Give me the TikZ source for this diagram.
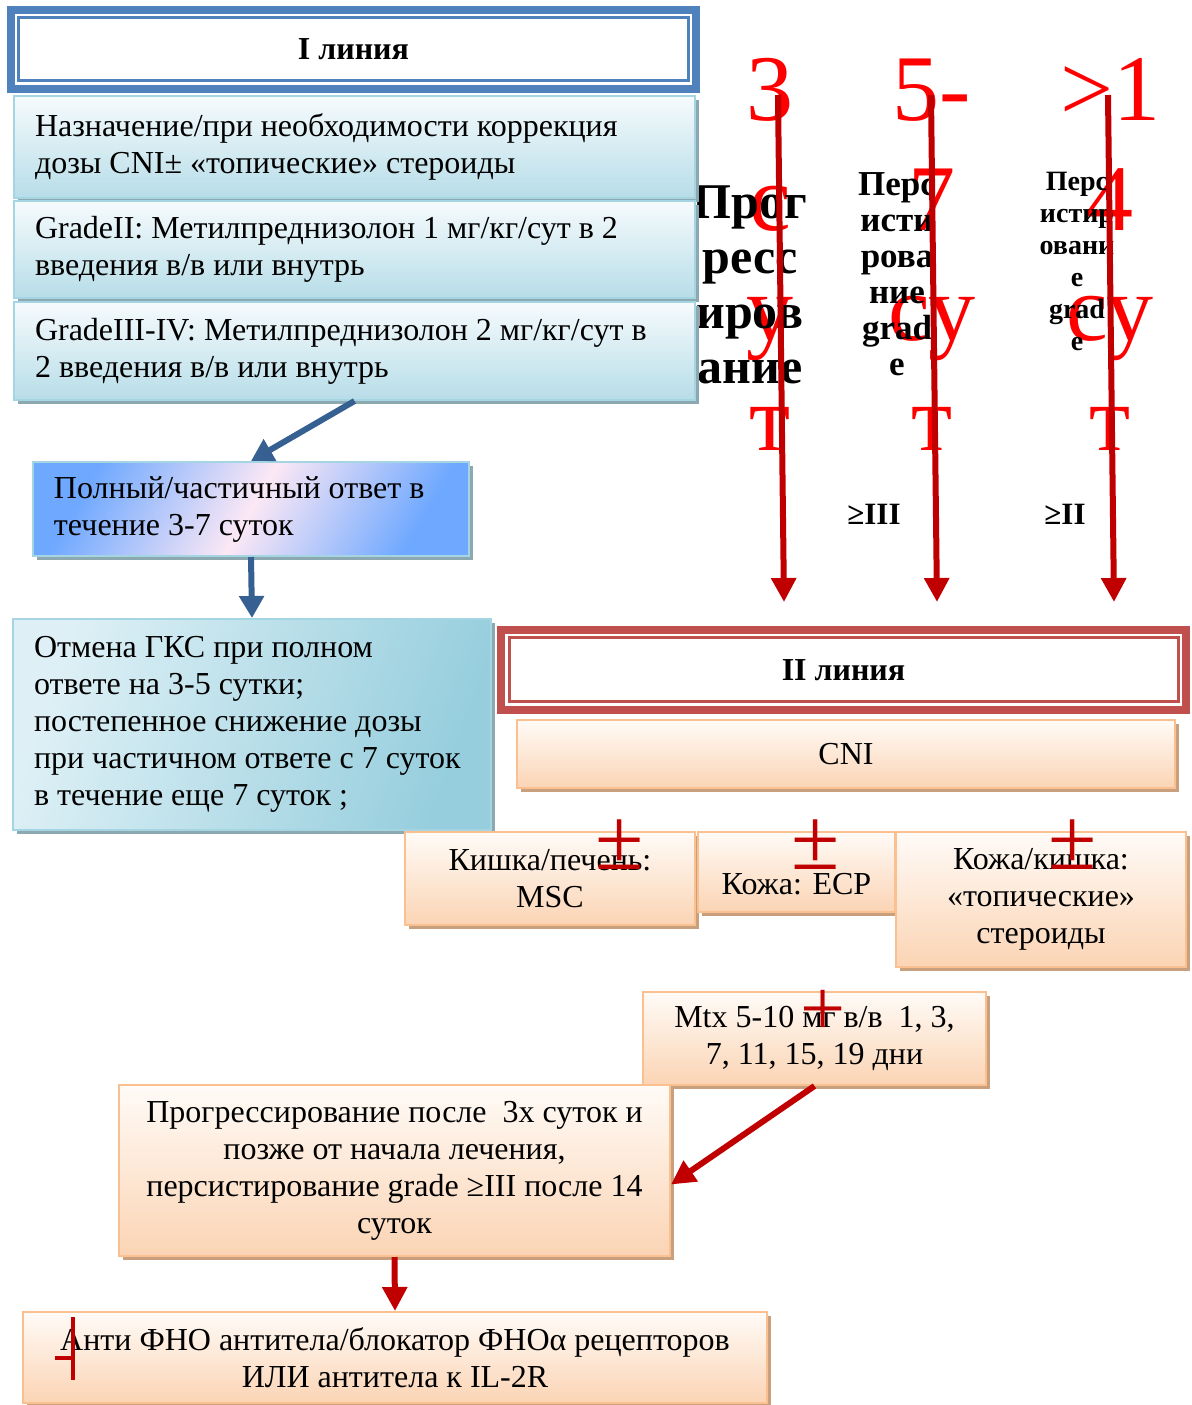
\documentclass[tikz,border=0pt]{standalone}
\usepackage{fontspec}
\setmainfont{Liberation Serif}
\usetikzlibrary{arrows.meta,shadows}
\definecolor{ttlblue}{RGB}{79,129,189}
\definecolor{ttlred}{RGB}{192,80,77}
\definecolor{arrblue}{RGB}{54,96,146}
\definecolor{arrred}{RGB}{192,0,0}
\definecolor{txtred}{RGB}{255,0,0}
\definecolor{aquatop}{RGB}{246,251,253}
\definecolor{aquabot}{RGB}{183,221,232}
\definecolor{aquaedge}{RGB}{165,213,226}
\definecolor{aquashd}{RGB}{140,168,176}
\definecolor{respblue}{RGB}{110,168,255}
\definecolor{respmid}{RGB}{252,232,245}
\definecolor{canclight}{RGB}{222,240,246}
\definecolor{cancdark}{RGB}{150,206,221}
\definecolor{peachtop}{RGB}{255,251,247}
\definecolor{peachbot}{RGB}{251,212,180}
\definecolor{peachedge}{RGB}{250,192,143}
\definecolor{peachshd}{RGB}{201,160,125}
\newcommand\bodyfs{\fontsize{16}{18.5}\selectfont}
\newcommand\headfs{\fontsize{16}{19}\selectfont\bfseries}

\begin{document}
\begin{tikzpicture}[x=0.5pt,y=-0.5pt,
   every node/.style={font=\bodyfs},
   ttlone/.style={draw=ttlblue, line width=4pt, fill=white, minimum width=342.5pt, minimum height=39.5pt, font=\headfs},
   ttltwo/.style={draw=ttlred, line width=4pt, fill=white, minimum width=342.5pt, minimum height=39.75pt, font=\headfs},
   aquabox/.style={draw=aquaedge, line width=1pt, top color=aquatop, bottom color=aquabot,
      drop shadow={shadow xshift=2pt, shadow yshift=-2pt, fill=aquashd, opacity=1},
      align=flush left, inner xsep=10.5pt, inner ysep=2pt},
   respbox/.style={aquabox, left color=respblue, right color=respblue, middle color=respmid, shading angle=60},
   cancbox/.style={aquabox, left color=canclight, right color=cancdark, shading angle=70},
   peachbox/.style={draw=peachedge, line width=1pt, top color=peachtop, bottom color=peachbot,
      drop shadow={shadow xshift=2pt, shadow yshift=-2pt, fill=peachshd, opacity=1},
      align=center, inner sep=2pt},
   daytxt/.style={text=txtred, align=center, anchor=base, inner sep=0pt, font=\fontsize{47}{55}\selectfont},
   pmsign/.style={text=arrred, anchor=base, inner sep=0pt, font=\fontsize{44}{44}\selectfont},
   bluearrow/.style={draw=arrblue, line width=3pt, -{Triangle[width=12pt,length=11pt]}},
   redarrow/.style={draw=arrred, line width=3pt, -{Triangle[width=12pt,length=12pt]}}]
\useasboundingbox (0,0) rectangle (1191,1405);

\node[daytxt] (d3) at (770,450) {3\\с\\у\\т};
\node[daytxt] (d57) at (932,450) {5-\\7\\су\\т};
\node[daytxt] (d14) at (1110,450) {>1\\4\\су\\т};

\node[anchor=base, align=center, inner sep=0pt, font=\fontsize{25}{27.5}\selectfont\bfseries] (prg) at (750,383) {Прог\\ресс\\иров\\ание};
\node[anchor=base, align=center, inner sep=0pt, font=\fontsize{17.5}{18}\selectfont\bfseries] (pers3) at (897,375) {Перс\\исти\\рова\\ние\\grad\\e};
\node[anchor=base, align=center, inner sep=0pt, font=\fontsize{14}{16}\selectfont\bfseries] (pers2) at (1077,350) {Перс\\истир\\овани\\е\\grad\\e};
\node[anchor=base, inner sep=0pt, font=\fontsize{15.5}{18}\selectfont\bfseries] (ge3) at (874,524) {≥III};
\node[anchor=base, inner sep=0pt, font=\fontsize{15.5}{18}\selectfont\bfseries] (ge2) at (1065,524) {≥II};

\coordinate (top1) at (778,95);
\coordinate (end1) at (784,602);
\coordinate (top2) at (931,95);
\coordinate (end2) at (937,602);
\coordinate (top3) at (1108,95);
\coordinate (end3) at (1114,602);
\draw[redarrow] (top1) -- (end1);
\draw[redarrow] (top2) -- (end2);
\draw[redarrow] (top3) -- (end3);

\node[ttlone] (line1) at (353.5,49) {I линия};
\draw[ttlblue, line width=1.5pt] ([shift={(11.5,12)}]line1.north west) rectangle ([shift={(-11.5,-12)}]line1.south east);

\node[aquabox, text width=319.5pt, minimum height=51pt] (step1) at (354.5,147) {Назначение/при необходимости коррекция\\дозы CNI± «топические» стероиды};
\node[aquabox, text width=319.5pt, minimum height=48.5pt] (step2) at (354.5,249.5) {GradeII: Метилпреднизолон 1 мг/кг/сут в 2\\введения в/в или внутрь};
\node[aquabox, text width=319.5pt, minimum height=49pt] (step3) at (354.5,351) {GradeIII-IV: Метилпреднизолон 2 мг/кг/сут в\\2 введения в/в или внутрь};
\node[respbox, text width=197pt, minimum height=47pt] (resp) at (251,509) {Полный/частичный ответ в\\течение 3-7 суток};
\node[cancbox, text width=218pt, minimum height=105.5pt] (cancel) at (252,724.5) {Отмена ГКС при полном\\ответе на 3-5 сутки;\\постепенное снижение дозы\\при частичном ответе с 7 суток\\в течение еще 7 суток ;};

\draw[bluearrow] (step3.south) -- (resp.north);
\draw[bluearrow] (resp.south) -- (cancel.north);

\node[ttltwo] (line2) at (843.5,669.75) {II линия};
\draw[ttlred, line width=1.5pt] ([shift={(12.5,11.5)}]line2.north west) rectangle ([shift={(-12,-12)}]line2.south east);

\node[peachbox, minimum width=329pt, minimum height=34pt] (cni) at (846,754) {CNI};
\node[peachbox, minimum width=145pt, minimum height=46.5pt] (gut) at (550,878.5) {Кишка/печень:\\MSC};
\node[peachbox, minimum width=98.5pt, minimum height=40pt, text height=25pt, text depth=3pt] (skin) at (796.5,872) {Кожа: ECP};
\node[peachbox, minimum width=145pt, minimum height=67.5pt] (skingut) at (1041,899.5) {Кожа/кишка:\\«топические»\\стероиды};
\node[peachbox, minimum width=171.5pt, minimum height=46.5pt] (mtx) at (814.5,1038.5) {Mtx 5-10 мг в/в\ \ 1, 3,\\7, 11, 15, 19 дни};
\node[peachbox, minimum width=275.5pt, minimum height=85.5pt] (prog) at (394.5,1170.5) {Прогрессирование после\ \ 3х суток и\\позже от начала лечения,\\персистирование grade ≥III после 14\\суток};
\node[peachbox, minimum width=372pt, minimum height=45.5pt] (anti) at (395,1357.5) {Анти ФНО антитела/блокатор ФНОα рецепторов\\ИЛИ антитела к IL-2R};

\node[pmsign] (pm1) at (620,869) {±};
\node[pmsign] (pm2) at (816,869) {±};
\node[pmsign] (pm3) at (1073,869) {±};
\node[pmsign, font=\fontsize{40}{40}\selectfont] (plus) at (823,1035) {+};
\draw[arrred, line width=2pt] (73,1317) -- (73,1380) (55,1358) -- (73,1358);

\draw[redarrow] (mtx.south) -- ([yshift=-7pt]prog.east);
\draw[redarrow] (prog.south) -- (anti.north);

\end{tikzpicture}
\end{document}
